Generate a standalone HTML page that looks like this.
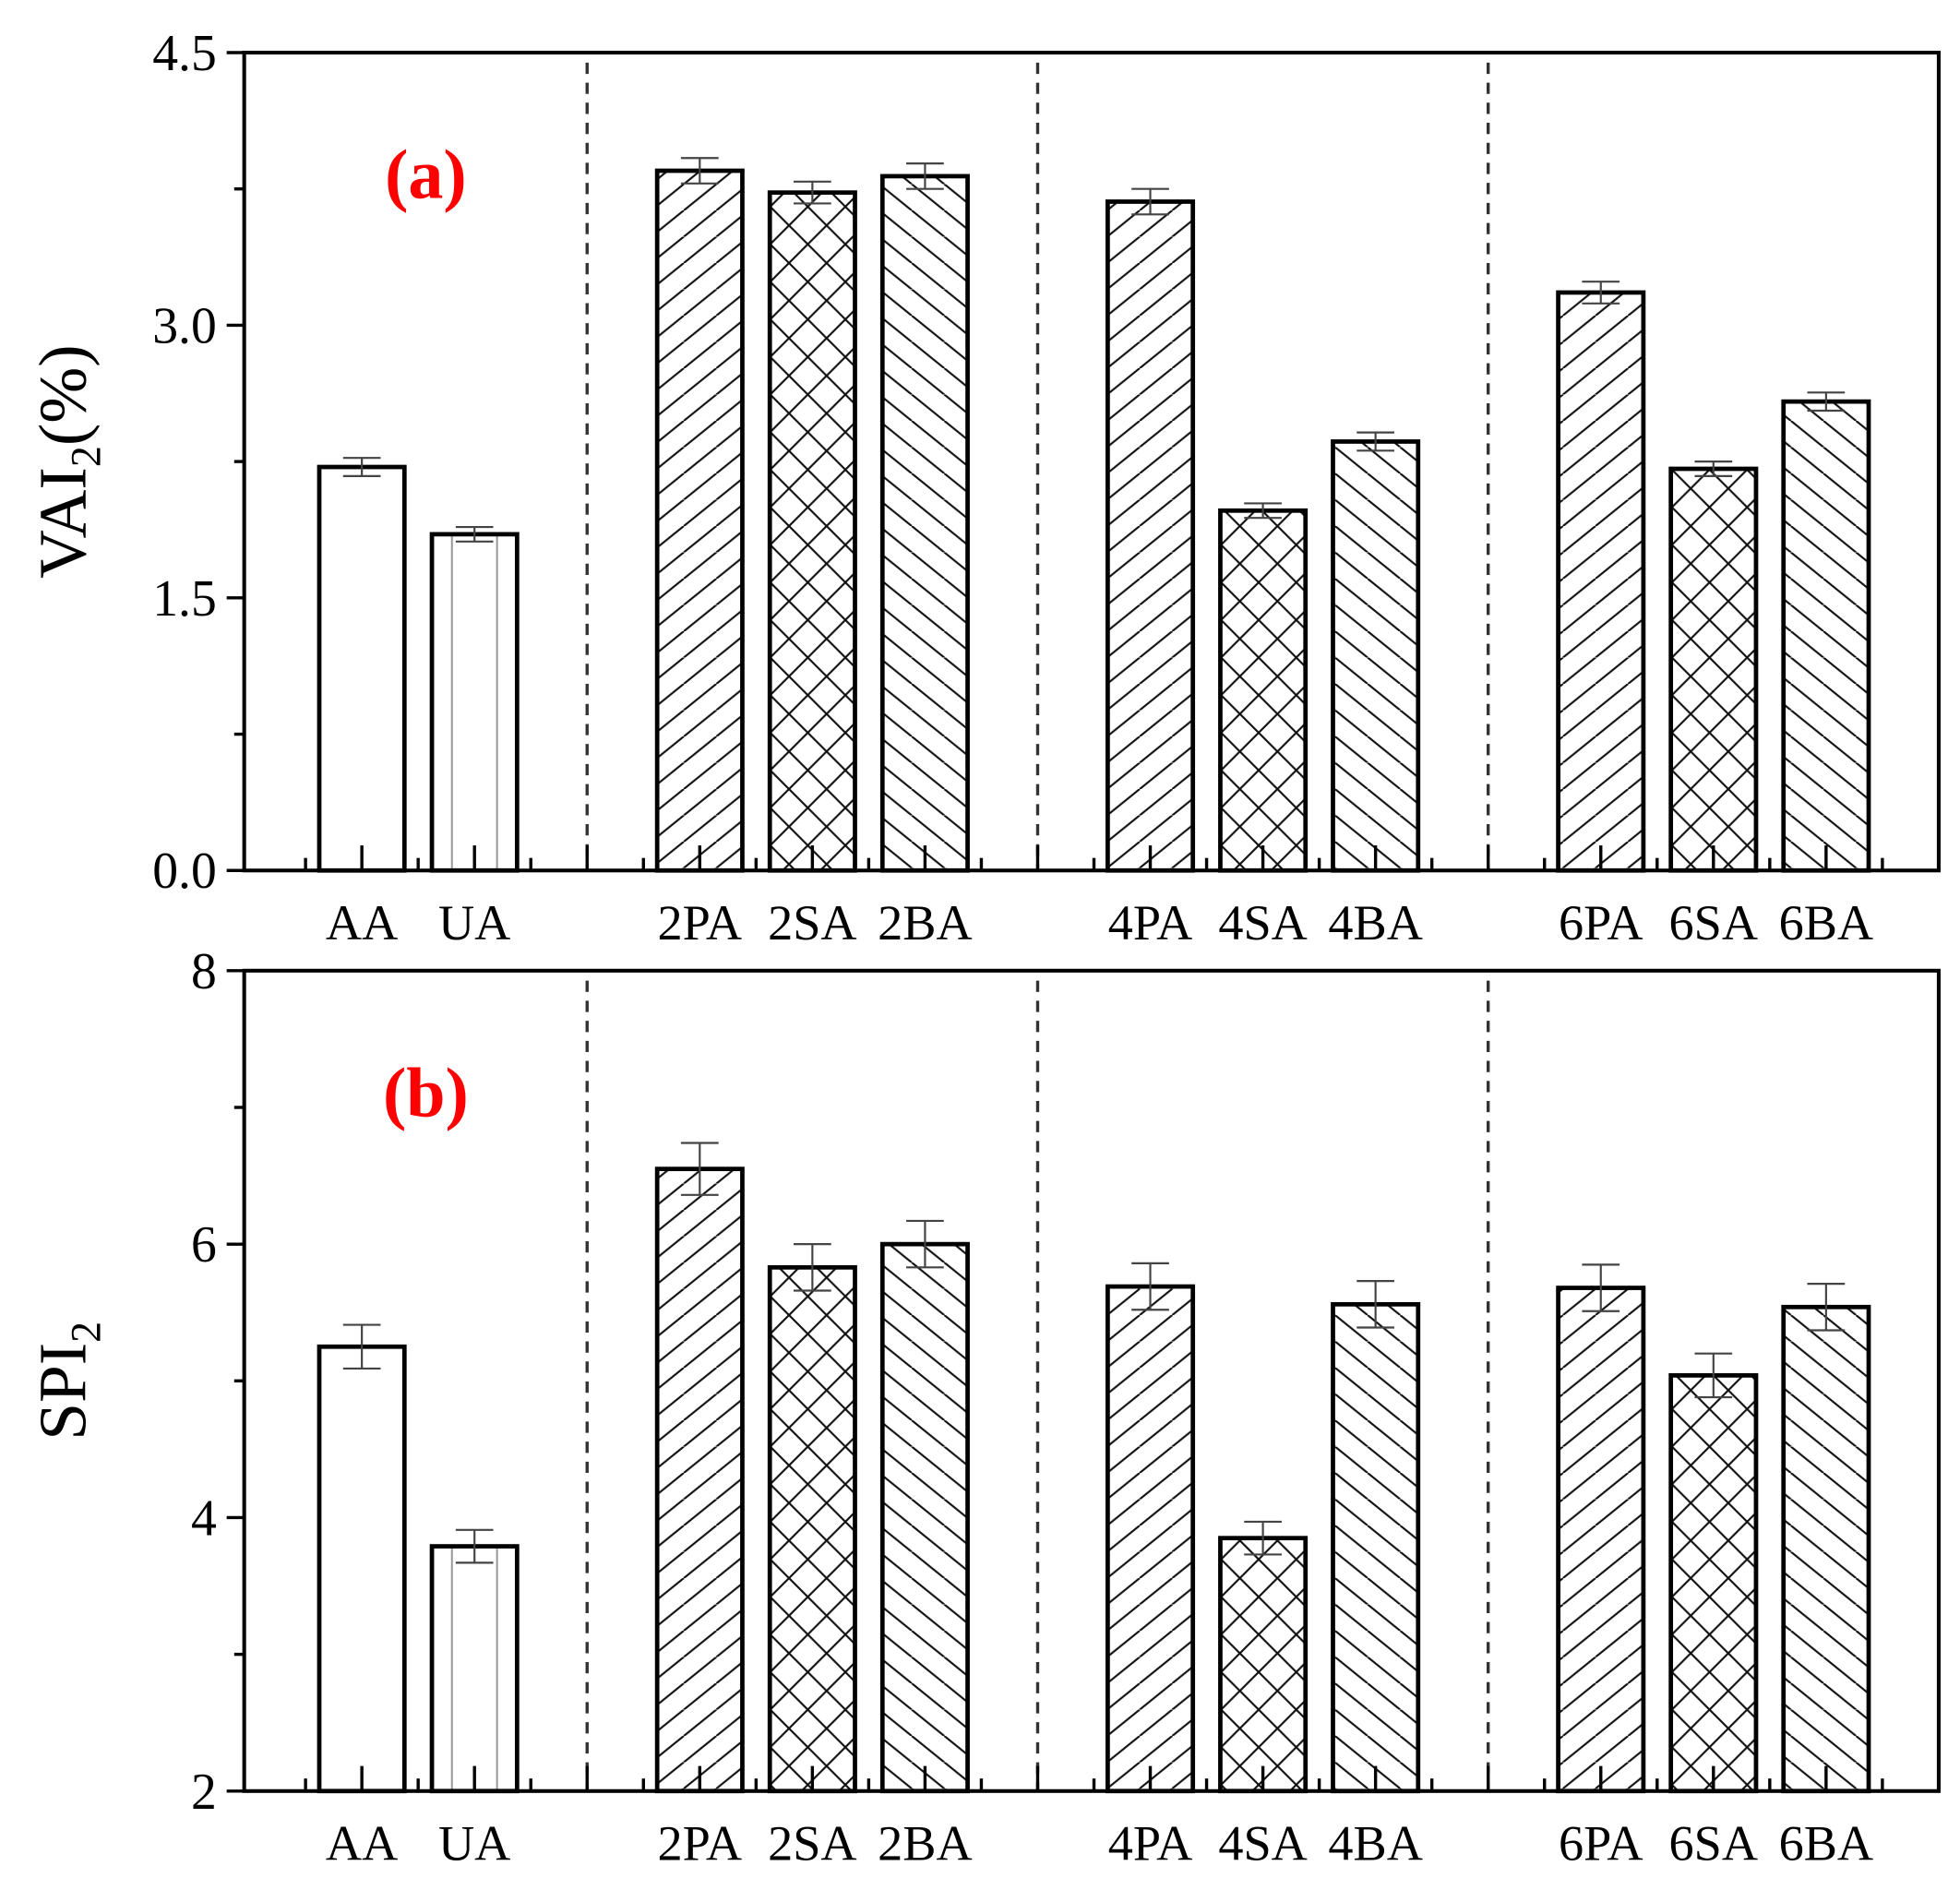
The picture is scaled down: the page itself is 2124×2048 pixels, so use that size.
<!DOCTYPE html>
<html><head><meta charset="utf-8"><style>
html,body{margin:0;padding:0;background:#fff}
svg{display:block}
text{font-family:"Liberation Serif",serif;fill:#000}
</style></head><body>
<svg id="chart" width="2124" height="2048" viewBox="0 0 1565 1509" preserveAspectRatio="none" xmlns="http://www.w3.org/2000/svg">
<defs>
<pattern id="pFwd" patternUnits="userSpaceOnUse" width="26" height="21"><path d="M-26,21 L0,0 M0,21 L26,0 M26,21 L52,0" stroke="#111" stroke-width="1.6"/></pattern>
<pattern id="pBack" patternUnits="userSpaceOnUse" width="26" height="21"><path d="M-26,0 L0,21 M0,0 L26,21 M26,0 L52,21" stroke="#111" stroke-width="1.6"/></pattern>
<pattern id="pCross" patternUnits="userSpaceOnUse" width="30" height="30"><path d="M0,0 L30,30 M30,0 L0,30" stroke="#111" stroke-width="1.6"/></pattern>
</defs>
</svg>
<script>
const categories=["AA","UA","2PA","2SA","2BA","4PA","4SA","4BA","6PA","6SA","6BA"];
const slots=[1,2,4,5,6,8,9,10,12,13,14];
const dividers=[3,7,11];
const fills=["none","ua","pFwd","pCross","pBack","pFwd","pCross","pBack","pFwd","pCross","pBack"];
const vaiValues=[2.22,1.85,3.85,3.73,3.82,3.68,1.98,2.36,3.18,2.21,2.58];
const vaiErrors=[0.05,0.04,0.07,0.06,0.07,0.07,0.04,0.05,0.06,0.04,0.05];
const spiValues=[5.25,3.79,6.55,5.83,6.0,5.69,3.85,5.56,5.68,5.04,5.54];
const spiErrors=[0.16,0.12,0.19,0.17,0.17,0.17,0.12,0.17,0.17,0.16,0.17];
const vaiTicks=["0.0","1.5","3.0","4.5"];
const spiTicks=["2","4","6","8"];

const svg=document.getElementById('chart');
const NS="http://www.w3.org/2000/svg";
function mk(tag,attrs,parent){const e=document.createElementNS(NS,tag);for(const k in attrs)e.setAttribute(k,attrs[k]);(parent||svg).appendChild(e);return e;}
const X0=195,X1=1548;
function xs(s){return X0+4+(X1-X0-4)*s/15;}

function panel(cfg){
  const g=mk('g',{});
  
  
  const ys=v=>cfg.bot-(v-cfg.min)/(cfg.max-cfg.min)*(cfg.bot-cfg.top);
  dividers.forEach(d=>{
    const l=mk('line',{x1:xs(d),x2:xs(d),y1:cfg.top+8,y2:cfg.bot,stroke:'#333','stroke-width':2.5,'stroke-dasharray':'9,7'},g);
    
    
  });
  const hw=34;
  categories.forEach((c,i)=>{
    const cx=xs(slots[i]);const v=cfg.values[i];const y=ys(v);
    const bg=mk('g',{},g);
    
    
    const f=fills[i];
    if(f!=='none'&&f!=='ua') mk('rect',{x:cx-hw,y:y,width:2*hw,height:cfg.bot-y,fill:'url(#'+f+')'},bg);
    if(f==='ua'){
      mk('line',{x1:cx-18,x2:cx-18,y1:y,y2:cfg.bot,stroke:'#999','stroke-width':1.5},bg);
      mk('line',{x1:cx+18,x2:cx+18,y1:y,y2:cfg.bot,stroke:'#999','stroke-width':1.5},bg);
    }
    mk('rect',{x:cx-hw,y:y,width:2*hw,height:cfg.bot-y,fill:'none',stroke:'#000','stroke-width':3.5},bg);
    const e=cfg.errors[i];const yt=ys(v+e),yb=ys(v-e);
    const eb=mk('path',{d:`M${cx},${yt}L${cx},${yb}M${cx-15},${yt}L${cx+15},${yt}M${cx-15},${yb}L${cx+15},${yb}`,stroke:'#444','stroke-width':1.6,fill:'none'},bg);
    
    
    const t=mk('text',{x:cx,y:cfg.bot+55,'font-size':40,'text-anchor':'middle'},g);
    t.textContent=c;
    
    
  });
  for(let s=0.5;s<15;s+=0.5){
    const len=(Math.abs(s-Math.round(s))<0.01)?20:10;
    mk('line',{x1:xs(s),x2:xs(s),y1:cfg.bot,y2:cfg.bot-len,stroke:'#000','stroke-width':2.5},g);
  }
  const fr=mk('rect',{x:X0,y:cfg.top,width:X1-X0,height:cfg.bot-cfg.top,fill:'none',stroke:'#000','stroke-width':3},g);
  
  
  cfg.ticks.forEach((lab,k)=>{
    const v=cfg.min+k*cfg.step;const y=ys(v);
    mk('line',{x1:X0-14,x2:X0,y1:y,y2:y,stroke:'#000','stroke-width':2.5},g);
    const t=mk('text',{x:X0-22,y:y+14,'font-size':41,'text-anchor':'end'},g);
    t.textContent=lab;
    
    
    if(k<cfg.ticks.length-1){const ym=ys(v+cfg.step/2);mk('line',{x1:X0-8,x2:X0,y1:ym,y2:ym,stroke:'#000','stroke-width':2.5},g);}
  });
  const yt=mk('text',{transform:`translate(${cfg.titleX},${(cfg.top+cfg.bot)/2}) rotate(-90)`,'font-size':54,'text-anchor':'middle'},g);
  yt.innerHTML=cfg.title;
  
  
  const pl=mk('text',{x:340,y:cfg.top+116,'font-size':56,'font-weight':'bold','text-anchor':'middle',style:'fill:#f00'},g);
  pl.textContent=cfg.label;
  
  
}
panel({name:'panel-a-vai2',top:42,bot:695,min:0,max:4.5,step:1.5,values:vaiValues,errors:vaiErrors,ticks:vaiTicks,title:'VAI<tspan font-size="34" dy="12">2</tspan><tspan dy="-12">(%)</tspan>',titleX:68,label:'(a)'});
panel({name:'panel-b-spi2',top:775,bot:1430,min:2,max:8,step:2,values:spiValues,errors:spiErrors,ticks:spiTicks,title:'SPI<tspan font-size="34" dy="12">2</tspan>',titleX:68,label:'(b)'});
</script>
</body></html>
